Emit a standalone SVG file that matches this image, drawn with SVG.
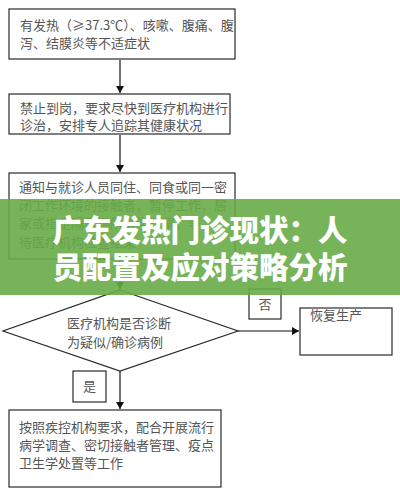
<svg xmlns="http://www.w3.org/2000/svg" width="400" height="498" viewBox="0 0 400 498">
<defs>
<style>
.box{fill:#fff;stroke:#2a2a2a;stroke-width:1.2}
.t{font-family:"Noto Sans CJK SC","Noto Sans",sans-serif;font-size:13px;fill:#555}
.ln{stroke:#111;stroke-width:1.2;fill:none}
.title{font-family:"Noto Sans CJK SC",sans-serif;font-size:29.5px;font-weight:900;fill:#fff}
</style>
<marker id="ah" markerWidth="8" markerHeight="8" refX="7" refY="4" orient="auto" markerUnits="userSpaceOnUse">
<path d="M0,0 L7,4 L0,8 Z" fill="#111"/>
</marker>
</defs>
<rect width="400" height="498" fill="#fff"/>
<g id="connectors">
<line class="ln" x1="120" y1="60" x2="120" y2="93" marker-end="url(#ah)"/>
<line class="ln" x1="120" y1="135" x2="120" y2="172" marker-end="url(#ah)"/>
<line class="ln" x1="120" y1="259" x2="120" y2="289" marker-end="url(#ah)"/>
<line class="ln" x1="238" y1="331" x2="299" y2="331" marker-end="url(#ah)"/>
<line class="ln" x1="120" y1="371" x2="120" y2="409" marker-end="url(#ah)"/>
</g>
<g id="n1">
<rect class="box" x="9" y="9" width="226" height="50"/>
<text class="t" x="20" y="30">有发热（≥37.3℃）、咳嗽、腹痛、腹</text>
<text class="t" x="20" y="48">泻、结膜炎等不适症状</text>
</g>
<g id="n2">
<rect class="box" x="9" y="94" width="221" height="40"/>
<text class="t" x="20" y="113">禁止到岗，要求尽快到医疗机构进行</text>
<text class="t" x="20" y="130">诊治，安排专人追踪其健康状况</text>
</g>
<g id="n3">
<rect class="box" x="9" y="173" width="226" height="86"/>
<text class="t" x="19" y="192">通知与就诊人员同住、同食或同一密</text>
<text class="t" x="19" y="210">闭工作环境的接触者，暂停工作，居</text>
<text class="t" x="19" y="228">家或指定隔离场所医学观察，等</text>
<text class="t" x="19" y="247">待医疗机构检查结果</text>
</g>
<g id="n4">
<polygon class="box" points="120,290 238,331 120,371 3,331"/>
<text class="t" x="67" y="328">医疗机构是否诊断</text>
<text class="t" x="67" y="347">为疑似/确诊病例</text>
</g>
<g id="n5">
<rect class="box" x="249" y="289" width="32" height="30"/>
<text class="t" x="265" y="309" text-anchor="middle">否</text>
</g>
<g id="n6">
<rect class="box" x="300" y="308" width="92" height="47"/>
<text class="t" x="310" y="320">恢复生产</text>
</g>
<g id="n7">
<rect class="box" x="73" y="371" width="33" height="31"/>
<text class="t" x="89.5" y="391" text-anchor="middle">是</text>
</g>
<g id="n8">
<rect class="box" x="9" y="410" width="212" height="77"/>
<text class="t" x="19" y="432">按照疾控机构要求，配合开展流行</text>
<text class="t" x="19" y="450">病学调查、密切接触者管理、疫点</text>
<text class="t" x="19" y="468">卫生学处置等工作</text>
</g>
<g id="banner">
<rect x="0" y="199" width="400" height="96" fill="#67ab47" fill-opacity="0.9"/>
<text class="title" x="200" y="241" text-anchor="middle">广东发热门诊现状：人</text>
<text class="title" x="200" y="278" text-anchor="middle">员配置及应对策略分析</text>
</g>
</svg>
